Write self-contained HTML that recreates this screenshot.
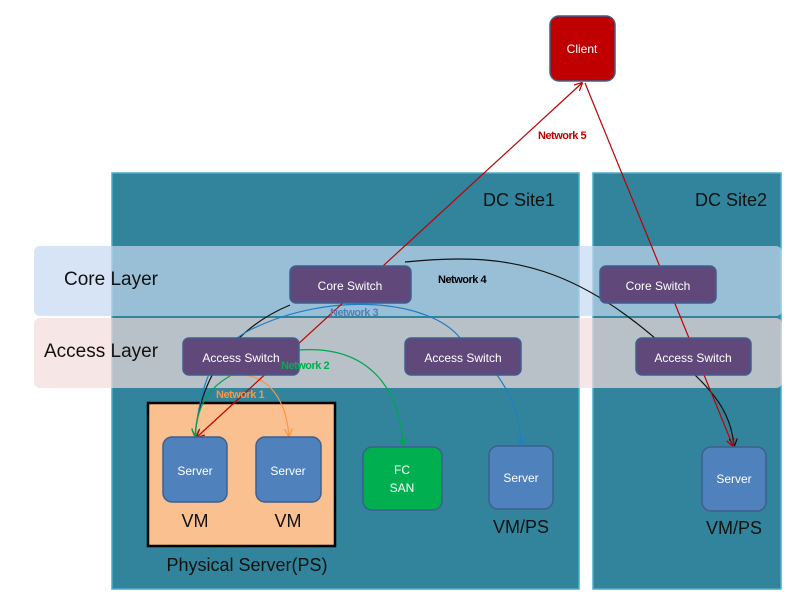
<!DOCTYPE html>
<html><head><meta charset="utf-8"><style>
body{margin:0;background:#fff;}
svg text{font-family:"Liberation Sans",sans-serif;}
</style></head><body>
<svg width="793" height="601" viewBox="0 0 793 601" xmlns="http://www.w3.org/2000/svg">
<defs>
<marker id="ar_r" viewBox="0 0 10 10" refX="9" refY="5" markerWidth="7" markerHeight="7" orient="auto-start-reverse"><path d="M0,0 L10,5 L0,10" fill="none" stroke="#c00000" stroke-width="1.5"/></marker>
<marker id="ar_k" viewBox="0 0 10 10" refX="9" refY="5" markerWidth="7" markerHeight="7" orient="auto"><path d="M0,0 L10,5 L0,10" fill="none" stroke="#111" stroke-width="1.5"/></marker>
<marker id="ar_g" viewBox="0 0 10 10" refX="9" refY="5" markerWidth="7" markerHeight="7" orient="auto"><path d="M0,0 L10,5 L0,10" fill="none" stroke="#00a550" stroke-width="1.5"/></marker>
<marker id="ar_o" viewBox="0 0 10 10" refX="9" refY="5" markerWidth="7" markerHeight="7" orient="auto"><path d="M0,0 L10,5 L0,10" fill="none" stroke="#f79646" stroke-width="1.5"/></marker>
<marker id="ar_b" viewBox="0 0 10 10" refX="9" refY="5" markerWidth="7" markerHeight="7" orient="auto"><path d="M0,0 L10,5 L0,10" fill="none" stroke="#1f7fc4" stroke-width="1.5"/></marker>
</defs>
<rect x="112" y="173" width="467" height="416" fill="#31849b" stroke="#4bacc6" stroke-width="1.5"/>
<rect x="593" y="173" width="188" height="416" fill="#31849b" stroke="#4bacc6" stroke-width="1.5"/>
<text x="555" y="206" font-size="18" fill="#111" text-anchor="end">DC Site1</text>
<text x="767" y="206" font-size="18" fill="#111" text-anchor="end">DC Site2</text>
<rect x="34" y="246" width="748" height="70" rx="6" fill="#c6d9f1" fill-opacity="0.7"/>
<rect x="34" y="318" width="748" height="70" rx="6" fill="#f2dcdb" fill-opacity="0.7"/>
<text x="64" y="285" font-size="19" fill="#111">Core Layer</text>
<text x="44" y="357" font-size="19" fill="#111">Access Layer</text>
<rect x="148" y="403" width="187" height="143" fill="#fac090" stroke="#000" stroke-width="2.5"/>
<text x="247" y="571" font-size="18" fill="#111" text-anchor="middle">Physical Server(PS)</text>
<g fill="none" stroke-width="1.2">
<path d="M290,305 C230,330 200,380 195,436" stroke="#111" marker-end="url(#ar_k)"/>
<path d="M405,262 C520,250 590,270 700,380 C725,405 732,425 734,446" stroke="#111" marker-end="url(#ar_k)"/>
<path d="M250,330 C330,290 430,300 460,338" stroke="#1f7fc4"/>
<path d="M250,330 C210,350 200,390 195,436" stroke="#1f7fc4"/>
<path d="M497,375 C515,400 520,420 521,445" stroke="#1f7fc4" marker-end="url(#ar_b)"/>
<path d="M299,350 C370,345 400,390 403,445" stroke="#00a550" marker-end="url(#ar_g)"/>
<path d="M230,376 C205,390 197,410 195,436" stroke="#00a550" marker-end="url(#ar_g)"/>
<path d="M230,376 C260,370 285,390 289,436" stroke="#f79646" marker-end="url(#ar_o)"/>
<path d="M585,83 L733,446" stroke="#c00000" marker-end="url(#ar_r)"/>
<path d="M582,83 L197,437" stroke="#c00000" marker-start="url(#ar_r)" marker-end="url(#ar_r)"/>
</g>
<g stroke="#3f5f8f" stroke-width="1.5">
<rect x="290" y="266" width="121" height="37" rx="6" fill="#60497a"/>
<rect x="600" y="266" width="116" height="37" rx="6" fill="#60497a"/>
<rect x="183" y="338" width="116" height="37" rx="6" fill="#60497a"/>
<rect x="405" y="338" width="116" height="37" rx="6" fill="#60497a"/>
<rect x="636" y="338" width="115" height="37" rx="6" fill="#60497a"/>
<rect x="163" y="437" width="64" height="65" rx="9" fill="#4f81bd"/>
<rect x="256" y="437" width="65" height="65" rx="9" fill="#4f81bd"/>
<rect x="363" y="447" width="79" height="63" rx="9" fill="#00b050"/>
<rect x="489" y="446" width="64" height="63" rx="9" fill="#4f81bd"/>
<rect x="702" y="447" width="64" height="64" rx="9" fill="#4f81bd"/>
<rect x="550" y="16" width="65" height="65" rx="9" fill="#c00000"/>
</g>
<g font-size="12" fill="#fff" text-anchor="middle">
<text x="350" y="290">Core Switch</text>
<text x="658" y="290">Core Switch</text>
<text x="241" y="362">Access Switch</text>
<text x="463" y="362">Access Switch</text>
<text x="693" y="362">Access Switch</text>
<text x="195" y="475">Server</text>
<text x="288" y="475">Server</text>
<text x="402" y="474">FC</text>
<text x="402" y="492">SAN</text>
<text x="521" y="482">Server</text>
<text x="734" y="483">Server</text>
<text x="582" y="53">Client</text>
</g>
<g font-size="18" fill="#111" text-anchor="middle">
<text x="195" y="527">VM</text>
<text x="288" y="527">VM</text>
<text x="521" y="533">VM/PS</text>
<text x="734" y="534">VM/PS</text>
</g>
<g font-size="11" font-weight="bold" letter-spacing="-0.5">
<text x="538" y="139" fill="#c00000">Network 5</text>
<text x="438" y="283" fill="#000">Network 4</text>
<text x="330" y="316" fill="#4f81bd">Network 3</text>
<text x="281" y="369" fill="#00b050">Network 2</text>
<text x="216" y="398" fill="#f79646">Network 1</text>
</g>
</svg>
</body></html>
